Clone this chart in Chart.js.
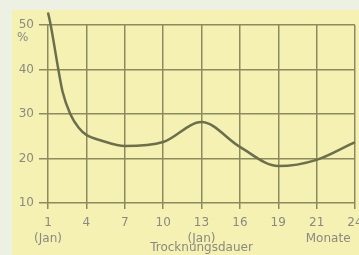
<!DOCTYPE html>
<html>
<head>
<meta charset="utf-8">
<script src="https://cdn.jsdelivr.net/npm/chart.js@4"></script>
<style>
  html, body { margin: 0; padding: 0; }
  body { width: 359px; height: 255px; background: #edf1e4; position: relative; overflow: hidden; }
  #panel { position: absolute; left: 12px; top: 10px; right: 0; bottom: 0; background: #f4f1b3; }
  #wrap { position: absolute; left: 0; top: 0; width: 359px; height: 255px; }
</style>
</head>
<body>
<div id="panel"></div>
<div id="wrap"><canvas id="chart" width="359" height="255"></canvas></div>
<script>
// tick labels on the (equally spaced) month axis
const xLabels = [["1", "(Jan)"], "4", "7", "10", ["13", "(Jan)"], "16", "19", "21", "24"]
const yTicks = [10, 20, 30, 40, 50]

// curve: position on the month axis (tick index) and moisture %
const curveX = [0, 0.07, 0.27, 0.38, 0.58, 0.8, 1, 1.4, 2, 3, 4, 5, 6, 7, 8]
const curveY = [52.8, 50, 40, 35, 30, 26.9, 25.3, 24.0, 22.8, 23.7, 28.2, 22.6, 18.3, 19.7, 23.7]

const textColor = "#8a8a80"
const gridColor = "#8c8b5f"
const fontFamily = "'DejaVu Sans', sans-serif"

// extra texts: "%" under 50 and "Monate" next to the last ticks
const extraText = {
  id: "extraText",
  afterDraw(chart) {
    const { ctx, scales } = chart
    ctx.save()
    ctx.fillStyle = textColor
    ctx.font = "12px " + fontFamily
    ctx.textBaseline = "middle"
    ctx.textAlign = "left"
    ctx.fillText("%", 17, scales.y.getPixelForValue(50) + 13)
    ctx.textAlign = "center"
    ctx.fillText("Monate", scales.x.getPixelForValue(7.3), scales.x.top + 36)
    ctx.restore()
  },
}

new Chart(document.getElementById("chart"), {
  type: "line",
  data: {
    datasets: [
      {
        data: curveX.map((x, i) => ({ x: x, y: curveY[i] })),
        borderColor: "#6c6f4d",
        borderWidth: 2.5,
        pointRadius: 0,
        cubicInterpolationMode: "monotone",
        clip: false,
      },
    ],
  },
  options: {
    responsive: false,
    animation: false,
    events: [],
    layout: { padding: { top: 25, right: 4, left: 0, bottom: 0 } },
    plugins: { legend: { display: false }, tooltip: { enabled: false } },
    scales: {
      x: {
        type: "linear",
        min: 0,
        max: 8,
        border: { display: false },
        grid: { color: gridColor, lineWidth: 1.5, tickLength: 6, tickColor: gridColor },
        ticks: {
          stepSize: 1,
          autoSkip: false,
          maxRotation: 0,
          padding: 6,
          color: textColor,
          font: { family: fontFamily, size: 12, lineHeight: 1.33 },
          callback: (value) => xLabels[value],
        },
        title: {
          display: true,
          text: "Trocknungsdauer",
          color: textColor,
          font: { family: fontFamily, size: 12, lineHeight: 1.0 },
          padding: { top: 0, bottom: 1 },
        },
        afterFit: (scale) => {
          scale.height = 52
          scale.paddingLeft = 0
          scale.paddingRight = 0
        },
      },
      y: {
        min: 10,
        max: 50,
        border: { display: false },
        grid: { color: gridColor, lineWidth: 1.5, tickLength: 9, tickColor: gridColor },
        afterBuildTicks: (scale) => {
          scale.ticks = yTicks.map((v) => ({ value: v }))
        },
        ticks: {
          padding: 5,
          color: textColor,
          font: { family: fontFamily, size: 12 },
        },
        afterFit: (scale) => {
          scale.width = 48
          scale.paddingTop = 0
          scale.paddingBottom = 0
        },
      },
    },
  },
  plugins: [extraText],
})
</script>
</body>
</html>
